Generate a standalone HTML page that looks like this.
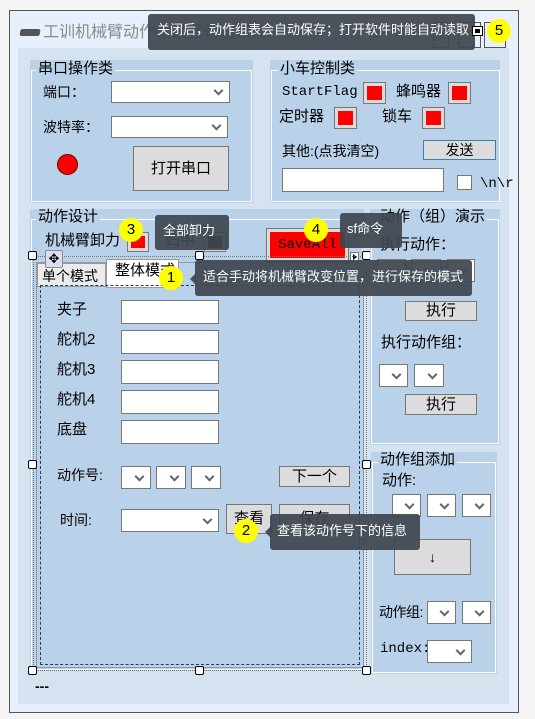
<!DOCTYPE html>
<html><head><meta charset="utf-8"><style>
*{box-sizing:border-box;margin:0;padding:0}
body{width:535px;height:719px;background:#f4f4f4;position:relative;overflow:hidden;font-family:"Liberation Sans","Noto Sans CJK SC",sans-serif;font-size:14px;color:#000}
div,span{position:absolute}
.t{white-space:nowrap;line-height:16px}
.grp{background:#bad1ea}
.gb{border:1px solid #fff}
.gt{background:#bad1ea;padding:0 2px;font-size:15px;line-height:16px;white-space:nowrap}
.cb{background:#fff;border:1px solid #777}
.cb::after{content:"";position:absolute;right:7px;top:50%;width:5px;height:5px;border-right:2px solid #666;border-bottom:2px solid #666;transform:translateY(-70%) rotate(45deg)}
.tb{background:#fff;border:1px solid #777}
.btn{background:#dcdcdc;border:1px solid #777;text-align:center;white-space:nowrap}
.led{background:#dcdcdc;border:1px solid #777;padding:3px}
.led i{display:block;width:100%;height:100%;background:#f00}
.tip{background:rgba(62,70,80,.93);color:#fff;border-radius:3px;white-space:nowrap;font-size:13px}
.bd{background:#ff0;border-radius:50%;width:24px;height:24px;text-align:center;line-height:24px;font-size:15px}
.h{width:9px;height:9px;background:#fff;border:1px solid #000;border-radius:2px}
.m{font-family:"Liberation Mono","DejaVu Sans Mono",monospace}
</style></head><body>
<div style="left:9px;top:10px;width:510px;height:703px;background:#e8f0fd;border:1px solid #555"></div>
<div style="left:18px;top:48px;width:491px;height:656px;background:#d5e3f1"></div>
<div class="t" style="left:20px;top:29px;width:20px;height:7px;background:#555;border-radius:2px;transform:skewX(-10deg)"></div>
<div class="t" style="left:43px;top:24px;font-size:16px;color:#8a8a8a;line-height:18px">工训机械臂动作组设置辅助软件</div>
<div style="left:433px;top:22px;width:16px;height:26px;border:1px solid #555"></div>
<div style="left:458px;top:22px;width:23px;height:26px;border:1px solid #555"></div>
<div style="left:484px;top:22px;width:22px;height:26px;border:1px solid #555"></div>

<div class="grp" style="left:30px;top:60px;width:223px;height:143px"></div>
<div class="gb" style="left:31px;top:70px;width:221px;height:132px"></div>
<div class="gt" style="left:36px;top:61px">串口操作类</div>
<div class="t" style="left:43px;top:84px">端口：</div>
<div class="cb" style="left:111px;top:81px;width:119px;height:22px"></div>
<div class="t" style="left:43px;top:119px">波特率：</div>
<div class="cb" style="left:111px;top:116px;width:117px;height:22px"></div>
<div style="left:57px;top:154px;width:21px;height:21px;border-radius:50%;background:#f00;border:1px solid #600"></div>
<div class="btn" style="left:133px;top:146px;width:96px;height:45px;line-height:43px;font-size:15px">打开串口</div>

<div class="grp" style="left:270px;top:60px;width:230px;height:143px"></div>
<div class="gb" style="left:271px;top:70px;width:229px;height:132px"></div>
<div class="gt" style="left:278px;top:61px">小车控制类</div>
<div class="t m" style="left:282px;top:84px">StartFlag</div>
<div class="led" style="left:363px;top:82px;width:23px;height:22px"><i></i></div>
<div class="t" style="left:396px;top:84px;font-size:15px">蜂鸣器</div>
<div class="led" style="left:448px;top:82px;width:23px;height:22px"><i></i></div>
<div class="t" style="left:279px;top:109px;font-size:15px">定时器</div>
<div class="led" style="left:334px;top:107px;width:23px;height:22px"><i></i></div>
<div class="t" style="left:382px;top:109px;font-size:15px">锁车</div>
<div class="led" style="left:422px;top:107px;width:23px;height:22px"><i></i></div>
<div class="t" style="left:282px;top:143px">其他:(点我清空)</div>
<div class="btn" style="left:423px;top:140px;width:73px;height:20px;line-height:18px;border-color:#3c7fb1">发送</div>
<div class="tb" style="left:282px;top:168px;width:162px;height:24px"></div>
<div class="tb" style="left:457px;top:175px;width:15px;height:15px"></div>
<div class="t m" style="left:480px;top:176px">\n\r</div>

<div class="grp" style="left:30px;top:209px;width:334px;height:462px"></div>
<div class="gb" style="left:31px;top:219px;width:332px;height:451px"></div>
<div class="gt" style="left:36px;top:209px">动作设计</div>
<div class="t" style="left:45px;top:233px;font-size:15px">机械臂卸力</div>
<div class="led" style="left:127px;top:232px;width:22px;height:20px"><i></i></div>
<div class="t" style="left:165px;top:233px;font-size:15px">归中</div>
<div class="led" style="left:204px;top:232px;width:22px;height:20px"><i style="background:#003300"></i></div>
<div class="btn m" style="left:266px;top:228px;width:83px;height:34px;padding:3px;background:#dcdcdc"><div style="left:3px;top:3px;right:3px;bottom:3px;background:#f00;line-height:26px;text-align:center;position:absolute">SaveAll</div></div>
<div style="left:350px;top:252px;width:9px;height:10px;background:#fff;border:1px solid #777"></div>
<div style="left:353px;top:254px;width:0;height:0;border-left:4px solid #000;border-top:3px solid transparent;border-bottom:3px solid transparent"></div>

<div style="left:33px;top:256px;width:334px;height:415px;border:1px dotted #777"></div>
<div style="left:36px;top:262px;width:328px;height:406px;border:1px solid #999"></div>
<div class="t" style="left:37px;top:263px;width:69px;height:24px;background:#ececec;border:1px solid #999;padding:4px 0 0 4px">单个模式</div>
<div class="t" style="left:106px;top:259px;width:73px;height:29px;background:#fff;border:1px solid #999;padding:3px 0 0 8px;font-size:15px">整体模式</div>
<div style="left:38px;top:288px;width:325px;height:378px;background:#bad1ea"></div>
<div style="left:40px;top:285px;width:320px;height:380px;border:1px dashed #1c3f6b"></div>
<div style="left:45px;top:250px;width:18px;height:18px;border:1px solid #889;background:#d8e0ee;border-radius:2px;text-align:center;line-height:16px;font-size:13px">✥</div>
<div class="h" style="left:28px;top:251px"></div><div class="h" style="left:195px;top:251px"></div><div class="h" style="left:362px;top:251px"></div>
<div class="h" style="left:28px;top:460px"></div><div class="h" style="left:362px;top:460px"></div>
<div class="h" style="left:28px;top:666px"></div><div class="h" style="left:195px;top:666px"></div><div class="h" style="left:362px;top:666px"></div>

<div class="t" style="left:57px;top:302px;font-size:15px">夹子</div>
<div class="t" style="left:57px;top:332px;font-size:15px">舵机2</div>
<div class="t" style="left:57px;top:362px;font-size:15px">舵机3</div>
<div class="t" style="left:57px;top:392px;font-size:15px">舵机4</div>
<div class="t" style="left:57px;top:422px;font-size:15px">底盘</div>
<div class="tb" style="left:121px;top:300px;width:98px;height:24px"></div>
<div class="tb" style="left:121px;top:330px;width:98px;height:24px"></div>
<div class="tb" style="left:121px;top:360px;width:98px;height:24px"></div>
<div class="tb" style="left:121px;top:390px;width:98px;height:24px"></div>
<div class="tb" style="left:121px;top:420px;width:98px;height:24px"></div>
<div class="t" style="left:57px;top:467px">动作号:</div>
<div class="cb" style="left:121px;top:466px;width:30px;height:23px"></div>
<div class="cb" style="left:156px;top:466px;width:30px;height:23px"></div>
<div class="cb" style="left:191px;top:466px;width:30px;height:23px"></div>
<div class="btn" style="left:279px;top:466px;width:71px;height:21px;line-height:19px;font-size:15px">下一个</div>
<div class="t" style="left:60px;top:512px">时间:</div>
<div class="cb" style="left:121px;top:509px;width:98px;height:23px"></div>
<div class="btn" style="left:226px;top:504px;width:46px;height:30px;line-height:28px;font-size:15px">查看</div>
<div class="btn" style="left:279px;top:504px;width:71px;height:30px;line-height:28px;font-size:15px">保存</div>

<div class="grp" style="left:370px;top:209px;width:130px;height:236px"></div>
<div class="gb" style="left:371px;top:219px;width:128px;height:225px"></div>
<div class="gt" style="left:378px;top:209px">动作（组）演示</div>
<div class="t" style="left:380px;top:237px;font-size:15px">执行动作：</div>
<div class="cb" style="left:377px;top:259px;width:29px;height:23px"></div>
<div class="cb" style="left:411px;top:259px;width:30px;height:23px"></div>
<div class="cb" style="left:447px;top:259px;width:28px;height:23px"></div>
<div class="btn" style="left:405px;top:301px;width:72px;height:20px;line-height:18px;font-size:15px">执行</div>
<div class="t" style="left:381px;top:335px;font-size:15px">执行动作组：</div>
<div class="cb" style="left:379px;top:364px;width:29px;height:23px"></div>
<div class="cb" style="left:414px;top:364px;width:30px;height:23px"></div>
<div class="btn" style="left:405px;top:394px;width:72px;height:21px;line-height:19px;font-size:15px">执行</div>

<div class="grp" style="left:371px;top:452px;width:126px;height:222px"></div>
<div class="gb" style="left:372px;top:462px;width:124px;height:211px"></div>
<div class="gt" style="left:378px;top:452px">动作组添加</div>
<div class="t" style="left:382px;top:473px;font-size:15px">动作:</div>
<div class="cb" style="left:392px;top:494px;width:29px;height:23px"></div>
<div class="cb" style="left:427px;top:494px;width:29px;height:23px"></div>
<div class="cb" style="left:462px;top:494px;width:29px;height:23px"></div>
<div class="btn" style="left:394px;top:539px;width:77px;height:36px;line-height:34px">↓</div>
<div class="t" style="left:379px;top:604px;font-size:14px;letter-spacing:-0.5px">动作组:</div>
<div class="cb" style="left:427px;top:601px;width:29px;height:23px"></div>
<div class="cb" style="left:462px;top:601px;width:29px;height:23px"></div>
<div class="t m" style="left:380px;top:641px">index:</div>
<div class="cb" style="left:427px;top:640px;width:45px;height:23px"></div>
<div class="t" style="left:35px;top:678px;font-weight:bold">---</div>

<div class="tip" style="left:148px;top:14px;width:327px;height:36px;line-height:32px;padding-left:9px;font-size:13px">关闭后，动作组表会自动保存；打开软件时能自动读取 <span style="position:static;display:inline-block;width:9px;height:8px;background:#000;border:2px solid #fff;outline:1px solid #000;vertical-align:middle"></span></div>
<div class="bd" style="left:487px;top:19px">5</div>
<div class="tip" style="left:155px;top:215px;width:74px;height:35px;line-height:32px;padding-left:8px">全部卸力</div>
<div class="bd" style="left:119px;top:218px">3</div>
<div class="tip" style="left:340px;top:213px;width:62px;height:35px;line-height:32px;padding-left:7px">sf命令</div>
<div class="bd" style="left:304px;top:218px">4</div>
<div class="tip" style="left:195px;top:260px;width:277px;height:36px;line-height:34px;padding-left:8px">适合手动将机械臂改变位置，进行保存的模式</div>
<div style="left:190px;top:273px;width:0;height:0;border-right:6px solid rgba(62,70,80,.93);border-top:6px solid transparent;border-bottom:6px solid transparent"></div>
<div class="bd" style="left:159px;top:266px">1</div>
<div class="tip" style="left:270px;top:514px;width:150px;height:36px;line-height:34px;padding-left:7px">查看该动作号下的信息</div>
<div style="left:265px;top:526px;width:0;height:0;border-right:6px solid rgba(62,70,80,.93);border-top:6px solid transparent;border-bottom:6px solid transparent"></div>
<div class="bd" style="left:234px;top:519px">2</div>
</body></html>
